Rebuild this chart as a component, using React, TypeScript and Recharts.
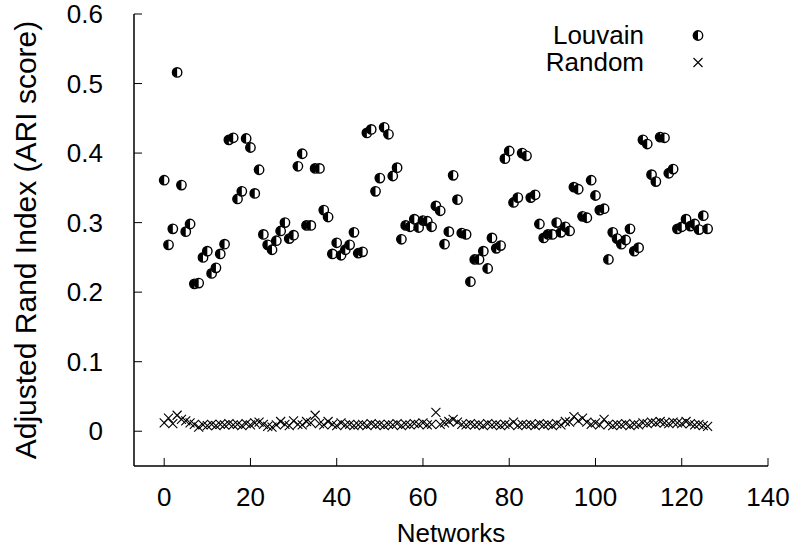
import React from 'react';
import { ScatterChart, Scatter, XAxis, YAxis, Legend, Label } from 'recharts';

const louvain = [
  0.361, 0.268, 0.291, 0.516, 0.354, 0.287, 0.298, 0.212, 0.213, 0.250,
  0.259, 0.227, 0.235, 0.255, 0.269, 0.419, 0.422, 0.334, 0.345, 0.421,
  0.408, 0.342, 0.376, 0.283, 0.268, 0.261, 0.274, 0.288, 0.300, 0.277,
  0.282, 0.381, 0.399, 0.296, 0.296, 0.378, 0.378, 0.318, 0.308, 0.255,
  0.271, 0.253, 0.261, 0.268, 0.286, 0.256, 0.258, 0.429, 0.434, 0.345,
  0.364, 0.437, 0.427, 0.367, 0.379, 0.276, 0.296, 0.294, 0.305, 0.293,
  0.303, 0.302, 0.294, 0.324, 0.317, 0.269, 0.287, 0.368, 0.333, 0.285,
  0.283, 0.215, 0.247, 0.247, 0.259, 0.234, 0.278, 0.263, 0.267, 0.392,
  0.403, 0.329, 0.336, 0.400, 0.396, 0.336, 0.340, 0.298, 0.278, 0.283,
  0.283, 0.300, 0.286, 0.294, 0.288, 0.351, 0.348, 0.309, 0.307, 0.361,
  0.339, 0.318, 0.320, 0.247, 0.286, 0.277, 0.269, 0.275, 0.291, 0.259,
  0.264, 0.419, 0.413, 0.369, 0.359, 0.423, 0.422, 0.371, 0.377, 0.291,
  0.294, 0.305, 0.295, 0.298, 0.290, 0.310, 0.291,
];

const random = [
  0.012, 0.019, 0.011, 0.023, 0.017, 0.015, 0.012, 0.010, 0.006, 0.009,
  0.008, 0.010, 0.008, 0.010, 0.009, 0.011, 0.009, 0.010, 0.008, 0.011,
  0.009, 0.012, 0.013, 0.010, 0.007, 0.006, 0.009, 0.014, 0.010, 0.008,
  0.015, 0.010, 0.009, 0.014, 0.012, 0.023, 0.011, 0.009, 0.014, 0.010,
  0.008, 0.012, 0.009, 0.010, 0.008, 0.009, 0.010, 0.008, 0.011, 0.009,
  0.010, 0.008, 0.010, 0.009, 0.011, 0.008, 0.010, 0.009, 0.011, 0.010,
  0.012, 0.009, 0.010, 0.027, 0.010, 0.012, 0.014, 0.017, 0.013, 0.010,
  0.009, 0.011, 0.009, 0.010, 0.008, 0.011, 0.009, 0.010, 0.008, 0.010,
  0.009, 0.013, 0.008, 0.010, 0.009, 0.010, 0.008, 0.011, 0.009, 0.010,
  0.008, 0.011, 0.009, 0.014, 0.013, 0.021, 0.015, 0.019, 0.013, 0.010,
  0.012, 0.009, 0.017, 0.010, 0.008, 0.010, 0.009, 0.011, 0.008, 0.010,
  0.009, 0.012, 0.011, 0.013, 0.012, 0.014, 0.012, 0.011, 0.013, 0.012,
  0.011, 0.014, 0.011, 0.009, 0.010, 0.008, 0.007,
];

const xTicks = [0, 20, 40, 60, 80, 100, 120, 140];
const yTicks = [0, 0.1, 0.2, 0.3, 0.4, 0.5, 0.6];

const louvainData = louvain.map((v, i) => ({ network: i, ari: v }));
const randomData = random.map((v, i) => ({ network: i, ari: v }));

const FONT = '"Liberation Sans", Arial, Helvetica, sans-serif';
const FS = 26;
const FS_YLABEL = 30;

const HalfCircle = ({ cx, cy }: any) => {
  const r = 4.7;
  return (
    <g>
      <circle cx={cx} cy={cy} r={r} fill="#fff" stroke="#000" strokeWidth={1.4} />
      <path d={`M${cx},${cy - r} A${r},${r} 0 0,0 ${cx},${cy + r} Z`} fill="#000" />
    </g>
  );
};

const Cross = ({ cx, cy }: any) => {
  const s = 4.5;
  return (
    <path
      d={`M${cx - s},${cy - s} L${cx + s},${cy + s} M${cx - s},${cy + s} L${cx + s},${cy - s}`}
      stroke="#000"
      strokeWidth={1.1}
    />
  );
};

const BottomTick = ({ x, y, payload }: any) => (
  <g>
    <line x1={x} y1={y} x2={x} y2={y - 8} stroke="#000" />
    <text x={x} y={y + 40} textAnchor="middle" fontSize={FS} fontFamily={FONT} fill="#000">
      {payload.value}
    </text>
  </g>
);

const TopTick = ({ x, y }: any) => <line x1={x} y1={y} x2={x} y2={y + 8} stroke="#000" />;

const LeftTick = ({ x, y, payload }: any) => (
  <g>
    <line x1={x} y1={y} x2={x + 8} y2={y} stroke="#000" />
    <text x={x - 31} y={y + 9} textAnchor="end" fontSize={FS} fontFamily={FONT} fill="#000">
      {payload.value}
    </text>
  </g>
);

const RightTick = ({ x, y }: any) => <line x1={x} y1={y} x2={x - 8} y2={y} stroke="#000" />;

const LegendBox = () => (
  <div style={{ fontFamily: FONT, fontSize: FS, color: '#000' }}>
    {[
      { name: 'Louvain', Mark: HalfCircle },
      { name: 'Random', Mark: Cross },
    ].map(({ name, Mark }) => (
      <div key={name} style={{ display: 'flex', alignItems: 'center', height: 27 }}>
        <span style={{ width: 104, textAlign: 'right', lineHeight: '27px' }}>{name}</span>
        <svg width={64} height={27}>
          <Mark cx={54} cy={13.5} />
        </svg>
      </div>
    ))}
  </div>
);

export default function App() {
  return (
    <div style={{ position: 'absolute', left: 0, top: 0 }}>
      <ScatterChart width={795} height={552} margin={{ top: 14, right: 27, bottom: 26, left: 74 }}>
        <XAxis
          xAxisId="b"
          type="number"
          dataKey="network"
          domain={[-7, 140]}
          ticks={xTicks}
          interval={0}
          height={60}
          tickSize={0}
          tickMargin={0}
          tickLine={false}
          tick={<BottomTick />}
          axisLine={{ stroke: '#000', strokeWidth: 1.5 }}
        >
          <Label
            content={({ viewBox }: any) => (
              <text
                x={viewBox.x + viewBox.width / 2}
                y={viewBox.y + 76}
                textAnchor="middle"
                fontSize={FS}
                fontFamily={FONT}
                fill="#000"
              >
                Networks
              </text>
            )}
          />
        </XAxis>
        <XAxis
          xAxisId="t"
          orientation="top"
          type="number"
          dataKey="network"
          domain={[-7, 140]}
          ticks={xTicks}
          interval={0}
          height={0}
          tickSize={0}
          tickMargin={0}
          tickLine={false}
          tick={<TopTick />}
          axisLine={{ stroke: '#000', strokeWidth: 1.5 }}
        />
        <YAxis
          yAxisId="l"
          type="number"
          dataKey="ari"
          domain={[-0.05, 0.6]}
          ticks={yTicks}
          interval={0}
          width={60}
          tickSize={0}
          tickMargin={0}
          tickLine={false}
          tick={<LeftTick />}
          axisLine={{ stroke: '#000', strokeWidth: 1.5 }}
        >
          <Label
            content={({ viewBox }: any) => {
              const bx = viewBox.x - 38;
              const cy = viewBox.y + viewBox.height / 2;
              return (
                <text
                  x={bx}
                  y={cy}
                  transform={`rotate(-90, ${bx}, ${cy})`}
                  textAnchor="middle"
                  fontSize={FS_YLABEL}
                  fontFamily={FONT}
                  fill="#000"
                >
                  Adjusted Rand Index (ARI score)
                </text>
              );
            }}
          />
        </YAxis>
        <YAxis
          yAxisId="r"
          orientation="right"
          type="number"
          dataKey="ari"
          domain={[-0.05, 0.6]}
          ticks={yTicks}
          interval={0}
          width={0}
          tickSize={0}
          tickMargin={0}
          tickLine={false}
          tick={<RightTick />}
          axisLine={{ stroke: '#000', strokeWidth: 1.5 }}
        />
        <Legend
          layout="vertical"
          align="center"
          verticalAlign="middle"
          wrapperStyle={{ left: 540, top: 21.5, width: 180 }}
          content={() => <LegendBox />}
        />
        <Scatter
          name="Louvain"
          data={louvainData}
          xAxisId="b"
          yAxisId="l"
          shape={HalfCircle}
          isAnimationActive={false}
        />
        <Scatter
          name="Random"
          data={randomData}
          xAxisId="b"
          yAxisId="l"
          shape={Cross}
          isAnimationActive={false}
        />
      </ScatterChart>
    </div>
  );
}
